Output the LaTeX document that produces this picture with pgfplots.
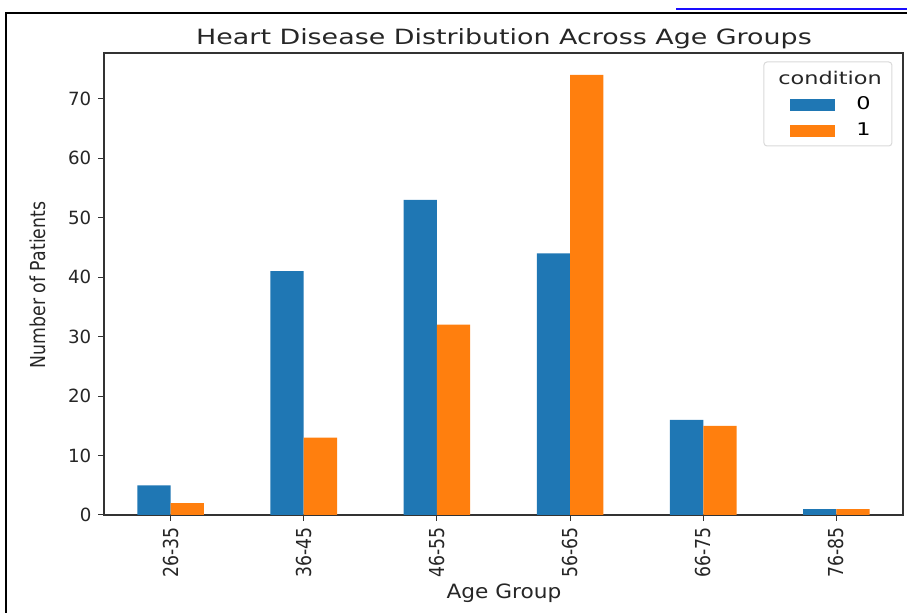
\documentclass[border=0pt]{standalone}
\usepackage{pgfplots}
\pgfplotsset{compat=1.18}
\usepackage{fontspec}
\setmainfont{DejaVu Sans}
\newfontfamily\widefont[FakeStretch=1.28]{DejaVu Sans}
\newfontfamily\xlabfont[FakeStretch=1.1]{DejaVu Sans}
\newfontfamily\rotfont[FakeStretch=0.84]{DejaVu Sans}
\definecolor{tabblue}{HTML}{1F77B4}
\definecolor{taborange}{HTML}{FF7F0E}
\definecolor{spine}{HTML}{333333}
\definecolor{linkblue}{HTML}{1A0DFF}
\begin{document}
\begin{tikzpicture}
\path[use as bounding box] (0,0) rectangle (453.5pt,306.5pt);
\begin{axis}[
  at={(52pt,49pt)}, anchor=south west,
  width=399.5pt, height=231pt, scale only axis,
  xmin=-0.5, xmax=5.5, ymin=0, ymax=77.7,
  ybar=0pt, bar width=16.65pt,
  xtick={0,1,2,3,4,5},
  xticklabels={26-35,36-45,46-55,56-65,66-75,76-85},
  x tick label style={rotate=90, anchor=east, font=\rotfont\fontsize{10.3}{12}\selectfont},
  y tick label style={font=\fontsize{9.1}{11}\selectfont},
  ytick={0,10,20,30,40,50,60,70},
  tick align=outside, tick pos=left,
  major tick length=2.8pt,
  tick style={spine, line width=0.5pt},
  axis line style={spine, line width=0.7pt},
  ticklabel style={text=black!85},
  /pgf/number format/assume math mode=true,
  legend style={at={(axis description cs:0.8586,0.915)}, anchor=north west,
    draw=none, fill=none, font=\widefont\fontsize{8.75}{10}\selectfont,
    row sep=1.2pt, inner sep=0pt},
  legend cell align=left,
  legend image code/.code={\fill[#1] (0pt,-3pt) rectangle (22.5pt,3pt); \path (31pt,0pt);},
  clip=false,
]
\addplot[fill=tabblue, draw=none] coordinates {(0,5) (1,41) (2,53) (3,44) (4,16) (5,1)};
\addplot[fill=taborange, draw=none] coordinates {(0,2) (1,13) (2,32) (3,74) (4,15) (5,1)};
\legend{0,1}
\draw[black!15, rounded corners=1.5pt, line width=0.5pt] (axis description cs:0.826,0.9805) rectangle (axis description cs:0.986,0.7987);
\node[font=\widefont\fontsize{8.75}{10}\selectfont, text=black!85] at (axis description cs:0.9087,0.946) {condition};
\end{axis}
\node[font=\widefont\fontsize{10.5}{12}\selectfont, text=black!85] at (252pt,287pt) {Heart Disease Distribution Across Age Groups};
\node[font=\rotfont\fontsize{10.3}{12}\selectfont, rotate=90, text=black!85] at (19pt,164pt) {Number of Patients};
\node[font=\xlabfont\fontsize{9.85}{12}\selectfont, text=black!85] at (252pt,10pt) {Age Group};
\draw[black, line width=1.3pt] (3pt,0pt) -- (3pt,300pt) -- (453.5pt,300pt);
\draw[linkblue, line width=1pt] (338pt,302pt) -- (453.5pt,302pt);
\end{tikzpicture}
\end{document}
